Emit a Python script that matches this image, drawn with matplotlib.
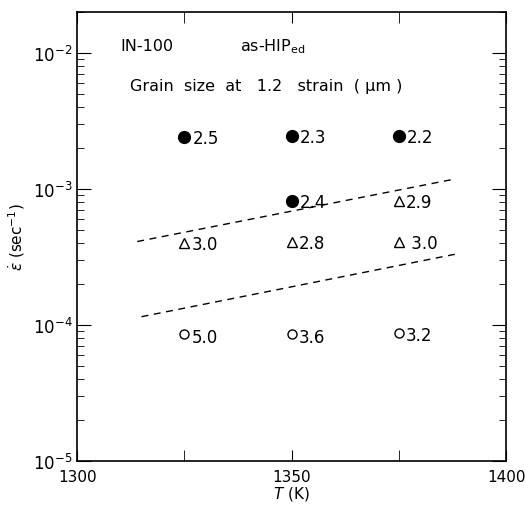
import matplotlib.pyplot as plt
import numpy as np

temps = [1325, 1350, 1375]

# filled circles
filled_T = [1325, 1350, 1375, 1350]
filled_rate = [2.4e-3, 2.45e-3, 2.45e-3, 8.2e-4]
filled_lbl = ['2.5', '2.3', '2.2', '2.4']

# open triangles
tri_T = [1325, 1350, 1375, 1375]
tri_rate = [4.0e-4, 4.1e-4, 4.1e-4, 8.2e-4]
tri_lbl = ['3.0', '2.8', ' 3.0', '2.9']

# open circles
open_T = [1325, 1350, 1375]
open_rate = [8.6e-5, 8.6e-5, 8.8e-5]
open_lbl = ['5.0', '3.6', '3.2']

# dashed boundaries
upper_T = [1314, 1388]
upper_rate = [4.1e-4, 1.18e-3]
lower_T = [1315, 1389]
lower_rate = [1.15e-4, 3.35e-4]

fig = plt.figure(figsize=(5.25, 5.1), dpi=100)
ax = fig.add_axes([0.147, 0.094, 0.817, 0.881])

ax.set_yscale('log')
ax.set_xlim(1300, 1400)
ax.set_ylim(1e-5, 2.0e-2)

ax.plot(upper_T, upper_rate, 'k--', lw=1.0, dashes=(5, 4))
ax.plot(lower_T, lower_rate, 'k--', lw=1.0, dashes=(5, 4))

ax.plot(filled_T, filled_rate, 'o', color='k', ms=8.5, ls='none')
ax.plot(tri_T, tri_rate, '^', mfc='white', mec='k', mew=1.0, ms=7, ls='none')
ax.plot(open_T, open_rate, 'o', mfc='white', mec='k', mew=1.0, ms=6.5, ls='none')

for t, r, s in zip(filled_T, filled_rate, filled_lbl):
    ax.annotate(s, (t, r), xytext=(6, -1), textcoords='offset points',
                va='center', ha='left', fontsize=12)
for t, r, s in zip(tri_T, tri_rate, tri_lbl):
    ax.annotate(s, (t, r), xytext=(5, -1), textcoords='offset points',
                va='center', ha='left', fontsize=12)
for t, r, s in zip(open_T, open_rate, open_lbl):
    ax.annotate(s, (t, r), xytext=(5, -2), textcoords='offset points',
                va='center', ha='left', fontsize=12)

ax.text(0.1, 0.925, 'IN-100', transform=ax.transAxes, fontsize=11.5, va='center')
ax.text(0.38, 0.925, r'as-HIP$_{\mathrm{ed}}$', transform=ax.transAxes,
        fontsize=11.5, va='center')
ax.text(0.123, 0.835, 'Grain  size  at   1.2   strain  ( \u03bcm )',
        transform=ax.transAxes, fontsize=11.5, va='center')

ax.set_xticks([1300, 1350, 1400])
ax.set_xticks([1325, 1375], minor=True)
ax.tick_params(axis='x', which='both', direction='in', top=True, length=8,
               labelsize=11, pad=6)
ax.tick_params(axis='y', which='major', direction='in', right=True, length=10,
               labelsize=12)
ax.tick_params(axis='y', which='minor', direction='in', right=True, length=5)
ax.set_yticks([1e-5, 1e-4, 1e-3, 1e-2])

for sp in ax.spines.values():
    sp.set_linewidth(1.2)

ax.set_xlabel(r'$T$ (K)', fontsize=11, labelpad=0)
ax.set_ylabel(r'$\dot{\epsilon}$ (sec$^{-1}$)', fontsize=11)

fig.savefig('out.png', dpi=100)
